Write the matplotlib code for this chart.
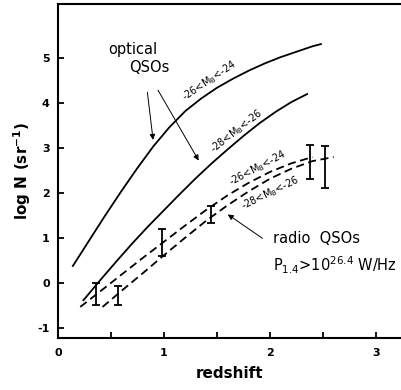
import matplotlib
matplotlib.use("Agg")
import matplotlib.pyplot as plt
from matplotlib.ticker import MultipleLocator

plt.rcParams["font.family"] = ["DejaVu Sans"]
plt.rcParams["mathtext.default"] = "regular"
plt.rcParams["axes.unicode_minus"] = False

# optical QSOs, -26<MB<-24 (upper solid)
opt1_z = [0.14, 0.3, 0.45, 0.6, 0.75, 0.9, 1.05, 1.2, 1.35, 1.5, 1.65, 1.8,
          1.95, 2.1, 2.25, 2.4, 2.48]
opt1_n = [0.38, 0.97, 1.52, 2.05, 2.56, 3.04, 3.46, 3.82, 4.1, 4.34, 4.54,
          4.72, 4.88, 5.02, 5.14, 5.26, 5.31]

# optical QSOs, -28<MB<-26 (lower solid)
opt2_z = [0.24, 0.4, 0.55, 0.7, 0.85, 1.0, 1.15, 1.3, 1.45, 1.6, 1.75, 1.9,
          2.05, 2.2, 2.35]
opt2_n = [-0.38, 0.07, 0.48, 0.88, 1.26, 1.62, 1.98, 2.33, 2.66, 2.97, 3.27,
          3.55, 3.8, 4.02, 4.2]

# radio QSOs, -26<MB<-24 (upper dashed)
rad1_z = [0.21, 0.4, 0.6, 0.8, 1.0, 1.2, 1.4, 1.6, 1.8, 2.0, 2.2, 2.4]
rad1_n = [-0.53, -0.18, 0.19, 0.56, 0.92, 1.28, 1.63, 1.95, 2.23, 2.47, 2.66,
          2.8]

# radio QSOs, -28<MB<-26 (lower dashed)
rad2_z = [0.42, 0.6, 0.8, 1.0, 1.2, 1.4, 1.6, 1.8, 2.0, 2.2, 2.4, 2.6]
rad2_n = [-0.53, -0.17, 0.22, 0.62, 1.01, 1.39, 1.73, 2.04, 2.32, 2.54, 2.71,
          2.8]

# error bars
err_z = [0.36, 0.57, 0.98, 1.44, 2.38, 2.52]
err_lo = [-0.49, -0.49, 0.6, 1.33, 2.31, 2.11]
err_hi = [0.0, -0.07, 1.2, 1.71, 3.07, 3.04]

fig = plt.figure(figsize=(4.02, 3.90), dpi=100)
ax = fig.add_axes([0.1443, 0.1333, 0.8557, 0.8564])

ax.plot(opt1_z, opt1_n, color="black", lw=1.3)
ax.plot(opt2_z, opt2_n, color="black", lw=1.3)
ax.plot(rad1_z, rad1_n, color="black", lw=1.3, dashes=(4.5, 2.5))
ax.plot(rad2_z, rad2_n, color="black", lw=1.3, dashes=(4.5, 2.5))

mid = [(a + b) / 2 for a, b in zip(err_lo, err_hi)]
yerr = [[m - a for m, a in zip(mid, err_lo)], [b - m for m, b in zip(mid, err_hi)]]
ax.errorbar(err_z, mid, yerr=yerr, fmt="none", ecolor="black",
            elinewidth=1.3, capsize=3, capthick=1.3)

ax.set_xlim(0, 3.245)
ax.set_ylim(-1.22, 6.2)
ax.xaxis.set_major_locator(MultipleLocator(1))
ax.xaxis.set_minor_locator(MultipleLocator(0.5))
ax.set_yticks(range(-1, 6))
ax.tick_params(which="both", direction="in", length=4, width=1.3,
               top=False, right=False)
ax.tick_params(axis="x", pad=7, labelsize=8)
ax.tick_params(axis="y", pad=6, labelsize=8)
for lab in ax.get_xticklabels() + ax.get_yticklabels():
    lab.set_fontweight("bold")
for s in ["left", "bottom", "top"]:
    ax.spines[s].set_linewidth(1.5)
ax.spines["right"].set_visible(False)

ax.set_xlabel("redshift", fontsize=11, fontweight="bold", labelpad=6)
ax.set_ylabel("log N (sr$^{-1}$)", fontsize=11, fontweight="bold", labelpad=3)

# labels
ax.text(0.71, 5.18, "optical", fontsize=10.5, ha="center", va="center")
ax.text(0.86, 4.78, "QSOs", fontsize=10.5, ha="center", va="center")
ax.annotate("", xy=(0.9, 3.12), xytext=(0.84, 4.3),
            arrowprops=dict(arrowstyle="-|>", color="black", lw=0.7,
                            mutation_scale=8))
ax.annotate("", xy=(1.34, 2.67), xytext=(0.93, 4.34),
            arrowprops=dict(arrowstyle="-|>", color="black", lw=0.7,
                            mutation_scale=8))
ax.annotate("", xy=(1.58, 1.56), xytext=(1.95, 0.96),
            arrowprops=dict(arrowstyle="-|>", color="black", lw=0.7,
                            mutation_scale=8))
ax.text(2.03, 0.99, "radio  QSOs", fontsize=10.5, ha="left", va="center")
ax.text(2.03, 0.4, "P$_{1.4}$>10$^{26.4}$ W/Hz", fontsize=10.5,
        ha="left", va="center")

ax.text(1.43, 4.49, "-26<M$_B$<-24", fontsize=7, rotation=34,
        ha="center", va="center")
ax.text(1.68, 3.38, "-28<M$_B$<-26", fontsize=7, rotation=38,
        ha="center", va="center")
ax.text(1.88, 2.56, "-26<M$_B$<-24", fontsize=7, rotation=28,
        ha="center", va="center")
ax.text(2.0, 2.0, "-28<M$_B$<-26", fontsize=7, rotation=26,
        ha="center", va="center")

fig.savefig("out.png", dpi=100)
